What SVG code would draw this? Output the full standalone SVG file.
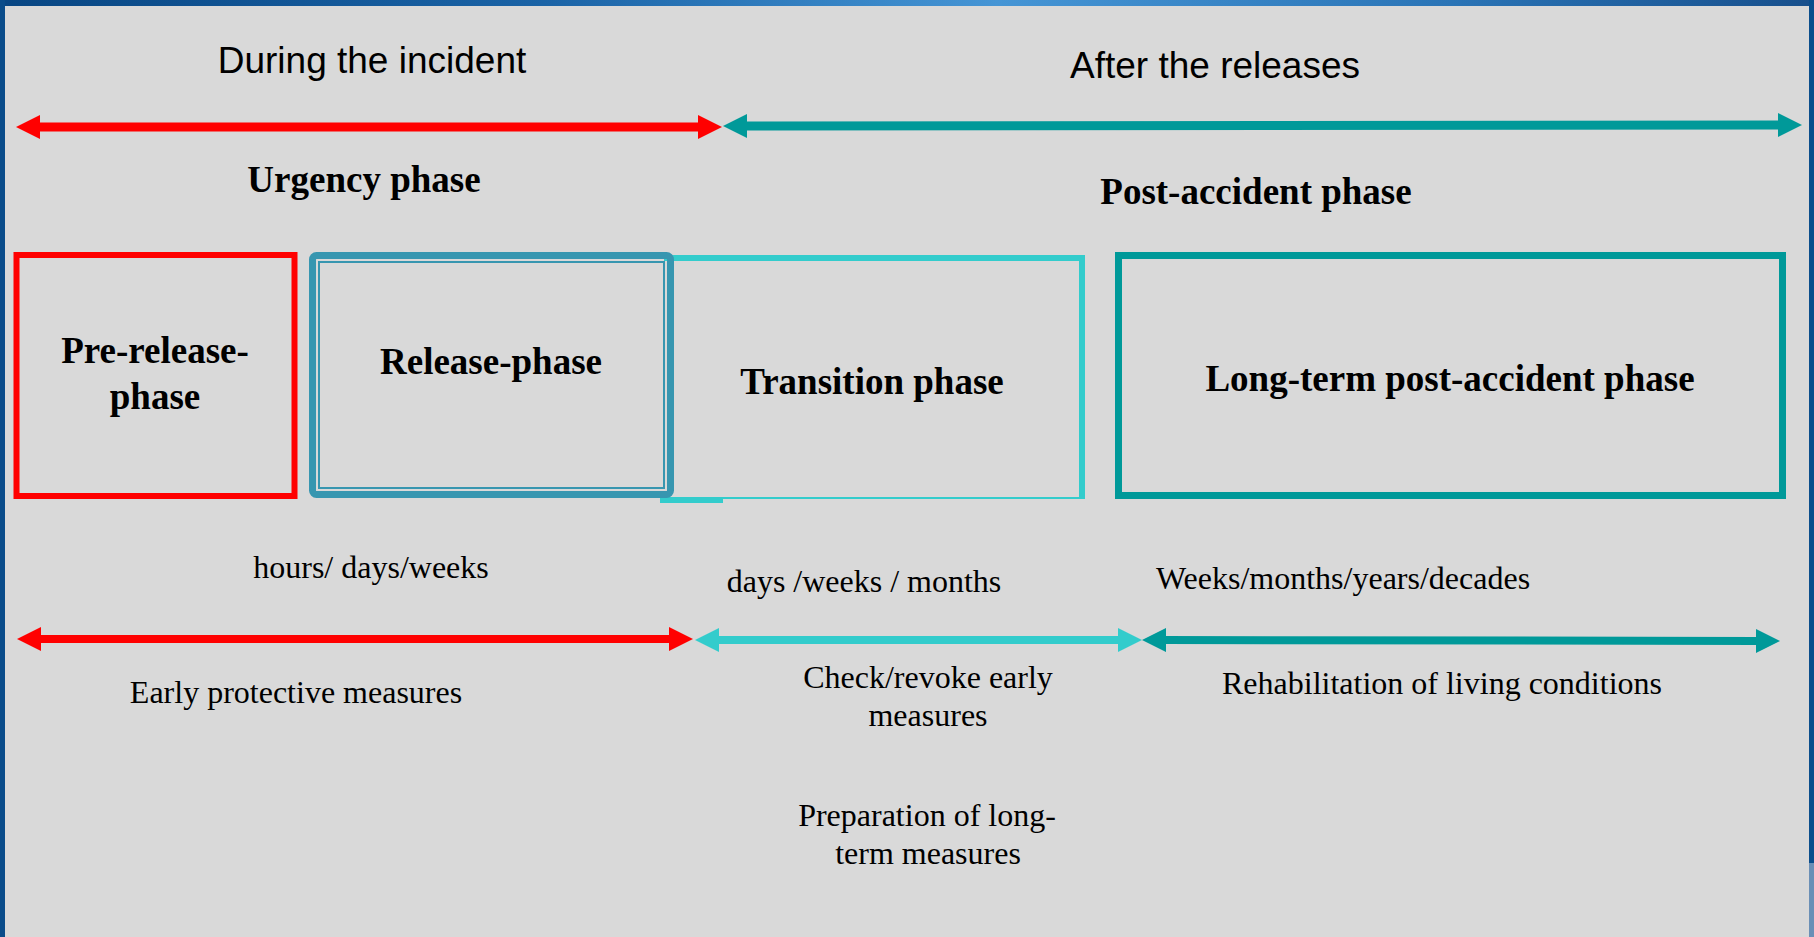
<svg xmlns="http://www.w3.org/2000/svg" width="1814" height="937" viewBox="0 0 1814 937">
  <defs>
    <linearGradient id="topband" x1="0" y1="0" x2="1" y2="0">
      <stop offset="0" stop-color="#084683"/>
      <stop offset="0.3" stop-color="#1a63a6"/>
      <stop offset="0.55" stop-color="#4595d5"/>
      <stop offset="0.8" stop-color="#2a74b6"/>
      <stop offset="1" stop-color="#174f8c"/>
    </linearGradient>
    <marker id="hRed" viewBox="-1 -13 26 26" markerWidth="26" markerHeight="26" markerUnits="userSpaceOnUse" refX="1" refY="0" orient="auto-start-reverse">
      <path d="M0,-12 L24,0 L0,12 Z" fill="#ff0000"/>
    </marker>
    <marker id="hTeal" viewBox="-1 -13 26 26" markerWidth="26" markerHeight="26" markerUnits="userSpaceOnUse" refX="1" refY="0" orient="auto-start-reverse">
      <path d="M0,-12 L24,0 L0,12 Z" fill="#009999"/>
    </marker>
    <marker id="hCyan" viewBox="-1 -13 26 26" markerWidth="26" markerHeight="26" markerUnits="userSpaceOnUse" refX="1" refY="0" orient="auto-start-reverse">
      <path d="M0,-12 L24,0 L0,12 Z" fill="#33cccc"/>
    </marker>
  </defs>
  <style>
    .sans { font-family: "Liberation Sans", Arial, sans-serif; font-size: 37px; fill: #000; text-anchor: middle; }
    .bold { font-family: "Liberation Serif", "Times New Roman", serif; font-size: 37px; font-weight: bold; fill: #000; text-anchor: middle; }
    .reg { font-family: "Liberation Serif", "Times New Roman", serif; font-size: 32px; fill: #000; text-anchor: middle; }
    .box { fill: none; }
    .red { stroke: #ff0000; }
    .teal { stroke: #009999; }
    .cyan { stroke: #33cccc; }
    .steel { stroke: #3796b0; }
    .arrow { fill: none; }
  </style>

  <!-- background and frame -->
  <rect x="0" y="0" width="1814" height="937" fill="#d9d9d9"/>
  <rect x="0" y="0" width="1814" height="6" fill="url(#topband)"/>
  <rect x="0" y="0" width="5" height="937" fill="#0a4c8a"/>
  <rect x="1809" y="0" width="5" height="863" fill="#0b4e8c"/>
  <rect x="1809" y="863" width="5" height="74" fill="#6a8fb6"/>

  <!-- headings -->
  <g id="headings">
    <text class="sans" x="372" y="73">During the incident</text>
    <text class="sans" x="1215" y="78">After the releases</text>
    <text class="bold" x="364" y="192">Urgency phase</text>
    <text class="bold" x="1256" y="204">Post-accident phase</text>
  </g>

  <!-- connectors -->
  <g id="connectors">
    <line class="arrow red" x1="39" y1="127" x2="699" y2="127" stroke-width="9" marker-start="url(#hRed)" marker-end="url(#hRed)"/>
    <line class="arrow teal" x1="746" y1="126" x2="1779" y2="125" stroke-width="9" marker-start="url(#hTeal)" marker-end="url(#hTeal)"/>
    <line class="arrow red" x1="40" y1="639" x2="670" y2="639" stroke-width="8" marker-start="url(#hRed)" marker-end="url(#hRed)"/>
    <line class="arrow cyan" x1="718" y1="640" x2="1119" y2="640" stroke-width="8" marker-start="url(#hCyan)" marker-end="url(#hCyan)"/>
    <line class="arrow teal" x1="1165" y1="640" x2="1757" y2="641" stroke-width="8" marker-start="url(#hTeal)" marker-end="url(#hTeal)"/>
  </g>

  <!-- nodes -->
  <g id="transition-phase">
    <path class="box cyan" d="M664,258 H1082 V499" stroke-width="6"/>
    <line class="cyan" x1="664" y1="498" x2="1085" y2="498" stroke-width="2"/>
    <rect x="660" y="498" width="63" height="5" fill="#33cccc"/>
    <text class="bold" x="872" y="394">Transition phase</text>
  </g>

  <g id="pre-release-phase">
    <rect class="box red" x="16.5" y="255" width="278" height="241" stroke-width="6"/>
    <text class="bold" x="155" y="363">Pre-release-</text>
    <text class="bold" x="155" y="409">phase</text>
  </g>

  <g id="release-phase">
    <rect class="box steel" x="312.5" y="255.5" width="358" height="239" rx="4" stroke-width="7"/>
    <rect class="box steel" x="319" y="262" width="345" height="226" stroke-width="2"/>
    <text class="bold" x="491" y="374">Release-phase</text>
  </g>

  <g id="long-term-phase">
    <rect class="box teal" x="1118.5" y="255.5" width="664" height="240" stroke-width="7"/>
    <text class="bold" x="1450" y="391">Long-term post-accident phase</text>
  </g>

  <!-- durations and measures -->
  <g id="labels">
    <text class="reg" x="371" y="578">hours/ days/weeks</text>
    <text class="reg" x="864" y="592">days /weeks / months</text>
    <text class="reg" x="1343" y="589">Weeks/months/years/decades</text>
    <text class="reg" x="296" y="703">Early protective measures</text>
    <text class="reg" x="928" y="688">Check/revoke early</text>
    <text class="reg" x="928" y="726">measures</text>
    <text class="reg" x="927" y="826">Preparation of long-</text>
    <text class="reg" x="928" y="864">term measures</text>
    <text class="reg" x="1442" y="694">Rehabilitation of living conditions</text>
  </g>
</svg>
